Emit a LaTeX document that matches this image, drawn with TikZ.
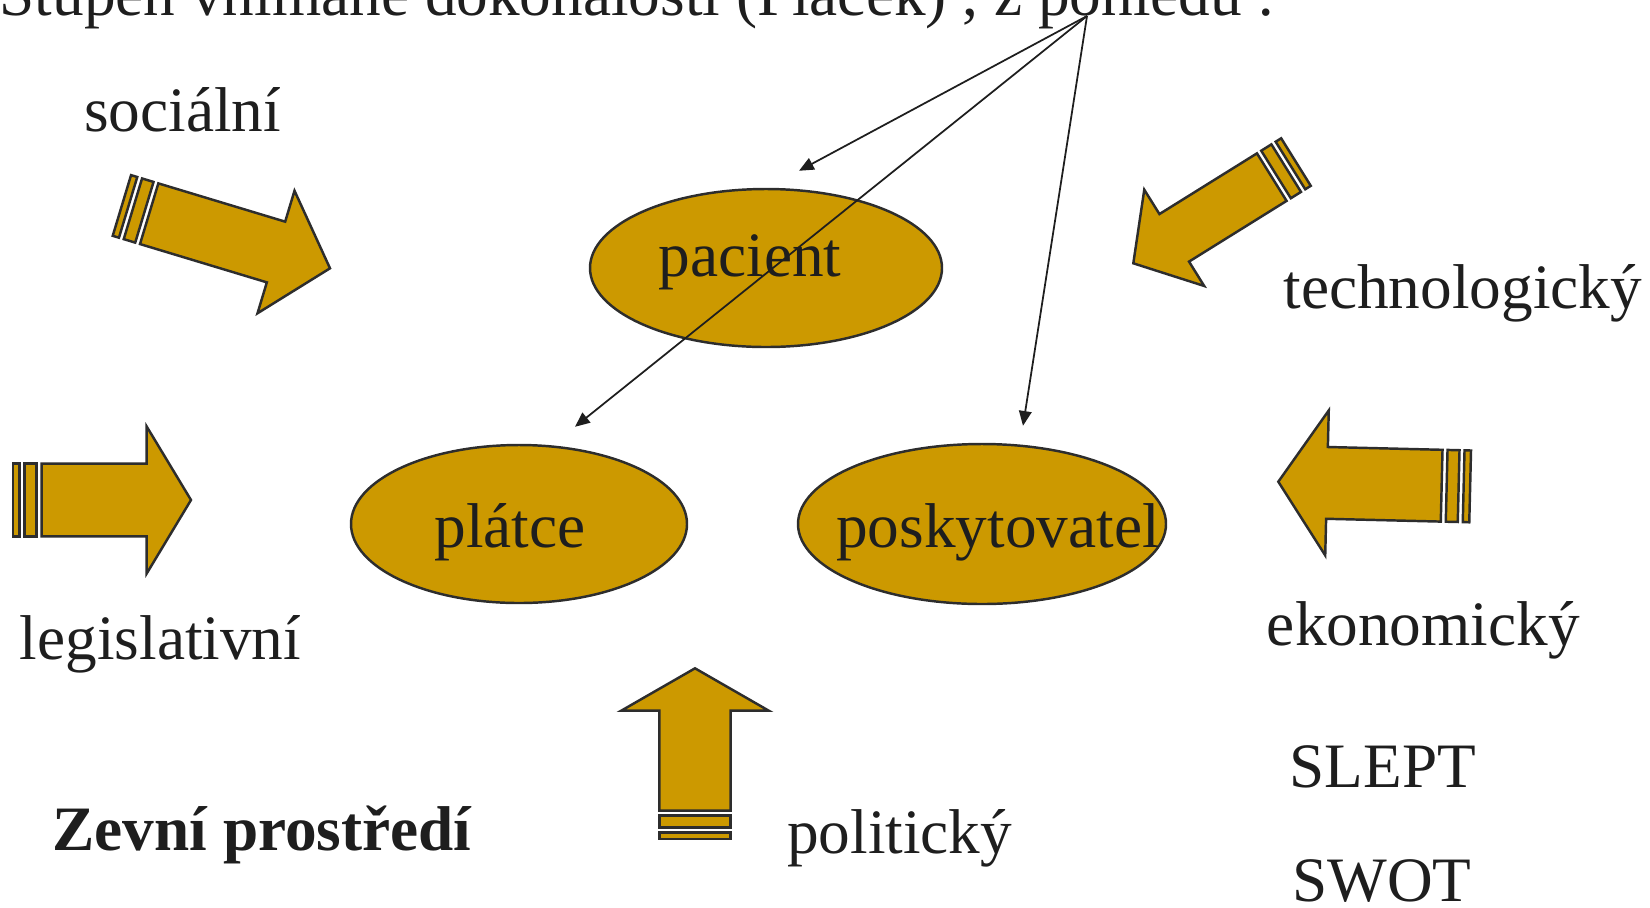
\documentclass[tikz,border=0pt]{standalone}
\usepackage{fontspec}
\setmainfont{Liberation Serif}
\usepackage{tikz}
\usetikzlibrary{arrows.meta,calc,shapes.geometric}
\usepackage{xcolor}
\definecolor{ochre}{RGB}{204,153,0}
\definecolor{edgegray}{RGB}{45,45,45}
\definecolor{textgray}{RGB}{30,30,30}

\begin{document}
\begin{tikzpicture}[x=0.1mm,y=0.1mm,>=Stealth,
  oval/.style={ellipse,draw=edgegray,line width=0.7pt,fill=ochre,inner sep=0pt},
  word/.style={anchor=base,inner sep=0pt,text=textgray,font=\fontsize{18}{21}\selectfont},
  blockarrow/.style={draw=edgegray,line width=0.7pt,fill=ochre,line join=miter},
  pointer/.style={draw=textgray,line width=0.5pt,-{Triangle[length=4.2pt,width=3.6pt]}}]
  \useasboundingbox (0,0) rectangle (1650,907);
  % the three parties
  \node[oval,minimum width=3.52cm,minimum height=1.58cm] (pacient) at (766,639) {};
  \node[oval,minimum width=3.36cm,minimum height=1.58cm] (platce) at (519,383) {};
  \node[oval,minimum width=3.68cm,minimum height=1.60cm] (posk) at (982,383) {};
  \node[word] (pacienttxt) at (750,631) {pacient};
  \node[word] (platcetxt) at (510,360) {plátce};
  \node[word] (posktxt) at (998,360) {poskytovatel};
  % heading, cut at the top
  \node[word,anchor=base east] (head) at (1276,892) {Stupeň vnímané dokonalosti (Plaček) , z pohledu :};
  \coordinate (apex) at (1087,891);
  \draw[pointer] (apex) -- ($(pacient.north)+(33,17)$);
  \draw[pointer] (apex) -- ($(platce.north)+(56,17)$);
  \draw[pointer] (apex) -- ($(posk.north)+(41,17)$);
  % outside influences
  \foreach \tx/\ty/\ang/\blen/\hlen/\bw/\hw in {191/407/0/105/44.3/36.3/73.5,
      330/638.7/-16.8/132.5/56.4/31.7/64,
      1133.3/643.7/211.9/114.9/48.2/28/56.7,
      1278.3/425.3/178.6/114.7/48.7/35.9/72.5,
      695/238.7/90/100/42.4/35.7/73.8}
  {
    \begin{scope}[shift={(\tx,\ty)},rotate=\ang]
      \draw[blockarrow] (0,0) -- (-\hlen,\hw) -- (-\hlen,\bw) -- (-\hlen-\blen,\bw)
        -- (-\hlen-\blen,-\bw) -- (-\hlen,-\bw) -- (-\hlen,-\hw) -- cycle;
      \draw[blockarrow] (-\hlen-\blen-5,-\bw) rectangle (-\hlen-\blen-17,\bw);
      \draw[blockarrow] (-\hlen-\blen-22,-\bw) rectangle (-\hlen-\blen-28.5,\bw);
    \end{scope}
  }
  \node[word] (social) at (182.6,775.5) {sociální};
  \node[word] (techno) at (1462.7,598.7) {technologický};
  \node[word] (legis) at (160.5,248) {legislativní};
  \node[word] (ekonom) at (1423.3,262) {ekonomický};
  \node[word] (polit) at (899.7,53.6) {politický};
  \node[word] (slept) at (1382.7,120) {SLEPT};
  \node[word] (swot) at (1381.7,6) {SWOT};
  \node[word,font=\fontsize{18}{21}\selectfont\bfseries] (zevni) at (262,57) {Zevní prostředí};
\end{tikzpicture}
\end{document}
